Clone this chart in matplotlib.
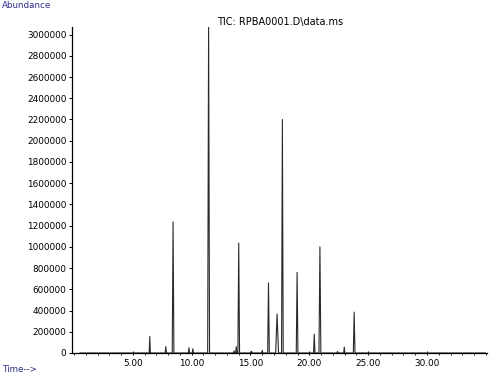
import numpy as np
import matplotlib
matplotlib.use('Agg')
import matplotlib.pyplot as plt
from matplotlib.ticker import MultipleLocator, FormatStrFormatter

# peak apex times (min) and abundances
peak_times = [6.44, 7.80, 8.42, 9.77, 10.10, 11.44, 13.60, 13.79, 14.00, 15.10,
              16.00, 16.53, 17.26, 17.71, 18.96, 20.42, 20.90, 22.40, 22.97, 23.81]
peak_heights = [155000, 60000, 1235000, 50000, 40000, 3070000, 20000, 60000, 1035000, 15000,
                25000, 660000, 367000, 2200000, 760000, 178000, 1000000, 15000, 56000, 385000]
peak_halfwidths = [0.05, 0.05, 0.07, 0.05, 0.05, 0.08, 0.05, 0.05, 0.07, 0.05,
                   0.05, 0.07, 0.12, 0.07, 0.07, 0.06, 0.08, 0.05, 0.05, 0.07]

run_start, run_end = 0.5, 35.0
y_ticks = [0, 200000, 400000, 600000, 800000, 1000000, 1200000, 1400000, 1600000,
           1800000, 2000000, 2200000, 2400000, 2600000, 2800000, 3000000]
x_ticks = [5, 10, 15, 20, 25, 30]

# trace: baseline, up to each apex, back to baseline
t = [run_start]
a = [0]
for tm, h, w in zip(peak_times, peak_heights, peak_halfwidths):
    t += [tm - w, tm, tm + w]
    a += [0, h, 0]
t.append(run_end)
a.append(0)

fig = plt.figure(figsize=(5, 3.75), dpi=100)
ax = fig.add_axes([0.144, 0.0587, 0.83, 0.869])
ax.plot(t, a, color='#2a2a2a', linewidth=0.8)

ax.set_xlim(-0.17, 35.1)
ax.set_ylim(0, 3070000)
ax.set_yticks(y_ticks)
ax.set_yticklabels([str(v) for v in y_ticks])
ax.set_xticks(x_ticks)
ax.xaxis.set_major_formatter(FormatStrFormatter('%.2f'))
ax.xaxis.set_minor_locator(MultipleLocator(1))

for s in ['top', 'right']:
    ax.spines[s].set_visible(False)
for s in ['left', 'bottom']:
    ax.spines[s].set_linewidth(0.9)

ax.tick_params(axis='y', length=2, width=0.7, pad=2, labelsize=6.4)
ax.tick_params(axis='x', which='major', length=3, width=0.7, pad=3, labelsize=6.4,
               direction='inout')
ax.tick_params(axis='x', which='minor', length=1.5, width=0.6)

fig.text(0.004, 0.996, 'Abundance', color='#2e2e8a', fontsize=6.3, va='top', ha='left')
fig.text(0.004, 0.002, 'Time-->', color='#2e2e8a', fontsize=6.3, va='bottom', ha='left')
fig.text(0.56, 0.942, 'TIC: RPBA0001.D\\data.ms', color='black', fontsize=7,
         ha='center', va='center')

plt.savefig('out.png', dpi=100)
